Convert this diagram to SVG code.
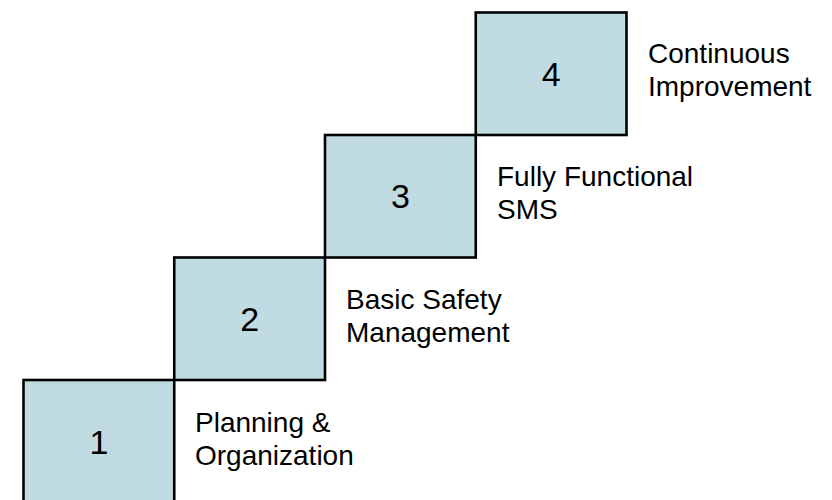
<svg xmlns="http://www.w3.org/2000/svg" width="832" height="500" viewBox="0 0 832 500">
  <style>
    .step { fill: #C0DCE2; stroke: #000000; stroke-width: 2.6; }
    .num { font-family: "Liberation Sans", Arial, sans-serif; font-size: 34px; fill: #000000; text-anchor: middle; }
    .label { font-family: "Liberation Sans", Arial, sans-serif; font-size: 28px; fill: #000000; }
  </style>
  <rect width="832" height="500" fill="#FFFFFF"/>

  <!-- Step 1 -->
  <g id="step1">
    <rect class="step" x="23.5" y="380" width="150.75" height="132"/>
    <text class="num" x="98.9" y="454">1</text>
    <text class="label" x="195" y="432">Planning &amp;</text>
    <text class="label" x="195" y="465">Organization</text>
  </g>

  <!-- Step 2 -->
  <g id="step2">
    <rect class="step" x="174.25" y="257.5" width="150.75" height="122.5"/>
    <text class="num" x="249.6" y="331">2</text>
    <text class="label" x="346" y="309">Basic Safety</text>
    <text class="label" x="346" y="342">Management</text>
  </g>

  <!-- Step 3 -->
  <g id="step3">
    <rect class="step" x="325" y="135" width="150.75" height="122.5"/>
    <text class="num" x="400.4" y="208">3</text>
    <text class="label" x="497" y="186">Fully Functional</text>
    <text class="label" x="497" y="219">SMS</text>
  </g>

  <!-- Step 4 -->
  <g id="step4">
    <rect class="step" x="475.75" y="12.5" width="150.75" height="122.5"/>
    <text class="num" x="551.1" y="85.5">4</text>
    <text class="label" x="648" y="63">Continuous</text>
    <text class="label" x="648" y="96">Improvement</text>
  </g>
</svg>
